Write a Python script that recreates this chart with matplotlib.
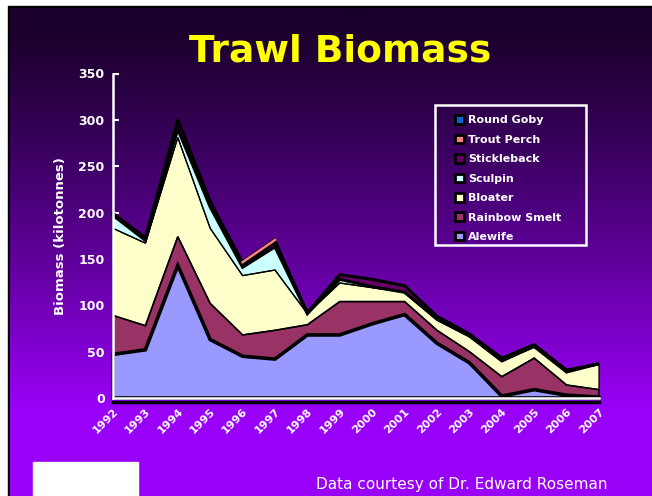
import matplotlib
matplotlib.use('Agg')
import matplotlib.pyplot as plt
import numpy as np
from matplotlib.patches import Patch, Rectangle

years = list(range(1992, 2008))
alewife = [47, 52, 143, 63, 45, 42, 68, 68, 80, 90, 59, 38, 2, 9, 3, 1]
rainbow_smelt = [42, 26, 31, 39, 23, 31, 11, 36, 24, 14, 14, 12, 21, 34, 11, 8]
bloater = [94, 89, 107, 81, 64, 65, 12, 20, 15, 10, 11, 16, 16, 12, 14, 28]
sculpin = [14, 3, 9, 23, 9, 25, 0, 4, 1, 0, 1, 1, 2, 0.5, 0, 0]
stickleback = [2, 3, 10, 6, 3, 5, 1, 5, 8, 7, 3, 2, 2, 2, 2, 0]
trout_perch = [0.5, 0.5, 1, 1, 4, 4, 0.5, 0.5, 0.5, 0.5, 0.5, 0.5, 0.5, 0.5, 0.5, 0]
round_goby = [0, 0, 0, 0, 0, 0, 0, 0, 0, 0.5, 0.5, 0.5, 0.5, 0.5, 0.5, 0]

names = ['Alewife', 'Rainbow Smelt', 'Bloater', 'Sculpin',
         'Stickleback', 'Trout Perch', 'Round Goby']
series = [alewife, rainbow_smelt, bloater, sculpin, stickleback, trout_perch, round_goby]
colors = ['#9999ff', '#993366', '#ffffcc', '#ccffff', '#660066', '#ff8080', '#0066cc']
widths = [2.6, 1.2, 0.9, 0.9, 2.2, 0.7, 0.7]

fig = plt.figure(figsize=(6.52, 4.96), dpi=100)

# background: white frame, black line, purple gradient
bg = fig.add_axes([0, 0, 1, 1], zorder=-2)
bg.axis('off')
t = np.clip((np.linspace(0, 496, 400) - 8) / 400, 0, 1) ** 1.25
top = np.array([0x1a, 0x00, 0x2a]) / 255
bot = np.array([0x99, 0x00, 0xf8]) / 255
grad = top[None, :] + t[:, None] * (bot - top)[None, :]
bg.add_patch(Rectangle((0, 0), 652, 496, color='white', zorder=0))
bg.add_patch(Rectangle((8, 6), 644, 490, color='black', zorder=1))
bg.imshow(grad[:, None, :], extent=[10, 652, 496, 8], aspect='auto', zorder=2)
bg.add_patch(Rectangle((33, 462), 105, 34, color='white', zorder=3))
# legend frame
bg.add_patch(Rectangle((435, 105), 151, 140, facecolor='none',
                       edgecolor='white', linewidth=1.8, zorder=3))
bg.set_xlim(0, 652)
bg.set_ylim(496, 0)

ax = fig.add_axes([113 / 652, 1 - 398 / 496, 486 / 652, 324.5 / 496])
ax.patch.set_alpha(0)

x = np.array(years, dtype=float)
base = np.zeros(len(years))
outlines = []
for vals, c, lw in zip(series, colors, widths):
    v = np.array(vals, dtype=float)
    ax.fill_between(x, base, base + v, facecolor=c, edgecolor='none', zorder=2)
    outlines.append((base.copy(), base + v, lw))
    base = base + v

for lo, hi, lw in outlines:
    px = np.concatenate([x, x[::-1], x[:1]])
    py = np.concatenate([hi, lo[::-1], hi[:1]])
    ax.plot(px, py, color='black', linewidth=lw, solid_joinstyle='miter',
            zorder=3, clip_on=False)
# trout perch sliver shows as a salmon line
ax.plot(x[4:6], (base - np.array(round_goby, dtype=float))[4:6] - 1.5,
        color='#ff8080', linewidth=1.8, zorder=3.5)

ax.set_xlim(1992, 2007)
ax.set_ylim(0, 350)
ax.set_yticks(range(0, 351, 50))
ax.set_xticks(years)
ax.set_xticklabels([str(y) for y in years], rotation=45, ha='right',
                   rotation_mode='anchor', color='white', fontsize=8,
                   fontweight='bold')
for lab in ax.get_yticklabels():
    lab.set_color('white')
    lab.set_fontweight('bold')
    lab.set_fontsize(9)
ax.tick_params(axis='y', direction='in', colors='white', length=4, width=1.5, pad=6)
ax.tick_params(axis='x', direction='in', colors='white', length=3, width=1, pad=6)
ax.spines['top'].set_visible(False)
ax.spines['right'].set_visible(False)
for side in ['left', 'bottom']:
    ax.spines[side].set_color('white')
    ax.spines[side].set_linewidth(1.8)
    ax.spines[side].set_zorder(5)
ax.axhline(-3.8, color='black', linewidth=2.5, clip_on=False, zorder=4)

ax.set_ylabel('Biomass (kilotonnes)', color='white', fontweight='bold',
              fontsize=9.5, labelpad=8)

handles = [Patch(facecolor=c, edgecolor='black', linewidth=2) for c in colors]
leg = fig.legend(handles[::-1], names[::-1], loc='upper left',
                 bbox_to_anchor=(443 / 652, 1 - 103 / 496), frameon=False,
                 fontsize=8, handlelength=0.8, handleheight=0.8,
                 handletextpad=0.35, labelspacing=0.84, borderpad=0.6)
for txt in leg.get_texts():
    txt.set_color('white')
    txt.set_fontweight('bold')

fig.text(340 / 652, 1 - 52 / 496, 'Trawl Biomass', color='#ffff00',
         fontsize=27, fontweight='bold', ha='center', va='center')
fig.text(462 / 652, 1 - 485 / 496, 'Data courtesy of Dr. Edward Roseman',
         color='white', fontsize=11, ha='center', va='center')

fig.savefig('out.png', dpi=100)
